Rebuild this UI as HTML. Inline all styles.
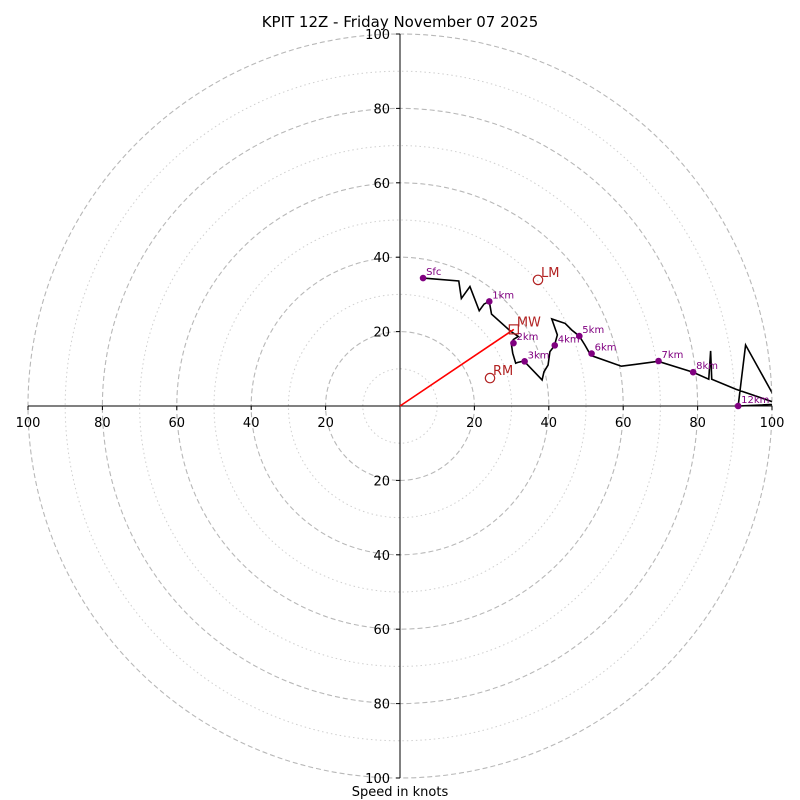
<!DOCTYPE html>
<html><head><meta charset="utf-8"><style>
html,body{margin:0;padding:0;background:#fff}
svg{display:block;font-family:"DejaVu Sans","Liberation Sans",sans-serif}
</style></head><body>
<svg id="c" width="800" height="800" viewBox="0 0 800 800">
<text x="400" y="27" text-anchor="middle" font-size="15">KPIT 12Z - Friday November 07 2025</text>
<text x="400" y="796" text-anchor="middle" font-size="13">Speed in knots</text>
<defs><clipPath id="clip"><circle cx="400" cy="406" r="372"/></clipPath></defs>
<g id="grid"></g><g id="axes"></g><g id="series" clip-path="url(#clip)"></g><g id="marks"></g>
</svg>
<script>
// hodograph wind components (knots): u east, v north
const traceU = [6.2,15.8,16.5,18.8,21.3,22.6,24.0,24.6,29.6,31.8,30.5,29.9,30.3,31.1,31.6,33.3,38.2,38.7,39.8,40.3,41.5,42.3,40.8,44.4,46.2,48.2,49.7,51.3,59.5,69.4,78.7,83.0,83.5,83.8,90.3,102,90.9,92.9,102];
const traceV = [34.4,33.6,28.9,32.1,25.6,27.4,28.1,24.7,20.2,18.7,17.9,16.9,14.2,11.5,11.7,12.1,7.0,9.2,11.0,14.6,16.2,19.1,23.4,22.2,20.4,18.8,16.4,13.6,10.7,12.0,9.1,7.2,14.8,7.2,4.5,0.5,0,16.4,0];
const hgtLabels = ["Sfc","1km","2km","3km","4km","5km","6km","7km","8km","12km"];
const hgtU = [6.2,24.0,30.5,33.5,41.6,48.2,51.5,69.5,78.8,90.9];
const hgtV = [34.4,28.1,16.9,12.0,16.3,18.8,14.1,12.1,9.1,0];
const stormLabels = ["MW","LM","RM"];
const stormU = [30.6,37.1,24.2];
const stormV = [20.6,33.9,7.5];
const ringVals = [10,20,30,40,50,60,70,80,90,100];
const tickVals = [20,40,60,80,100];

const cx=400, cy=406, S=3.72;
const X=u=>cx+u*S, Y=v=>cy-v*S;
const NS="http://www.w3.org/2000/svg";
function mk(tag, attrs, parent){const e=document.createElementNS(NS,tag);for(const k in attrs)e.setAttribute(k,attrs[k]);parent.appendChild(e);return e;}
const grid=document.getElementById('grid'), axes=document.getElementById('axes'), series=document.getElementById('series'), marks=document.getElementById('marks');

ringVals.forEach(r=>{
  const major = r%20===0;
  const c=mk('circle',{cx:cx,cy:cy,r:r*S,fill:'none',stroke:major?'#b8b8b8':'#cfcfcf','stroke-width':major?1.1:1,'stroke-dasharray':major?'5,3':'1.5,3'},grid);
  
  
});
let l=mk('line',{x1:X(-100),y1:cy,x2:X(100),y2:cy,stroke:'#000','stroke-width':1},axes);


l=mk('line',{x1:cx,y1:Y(100),x2:cx,y2:Y(-100),stroke:'#000','stroke-width':1},axes);


tickVals.forEach(t=>{
  [-1,1].forEach(s=>{
    let tk=mk('line',{x1:X(s*t),y1:cy,x2:X(s*t),y2:cy+4,stroke:'#000','stroke-width':1},axes);
    
    
    tk=mk('line',{x1:cx-4,y1:Y(s*t),x2:cx,y2:Y(s*t),stroke:'#000','stroke-width':1},axes);
    
    
    let tx=mk('text',{x:X(s*t),y:cy+21,'text-anchor':'middle','font-size':13},axes);tx.textContent=t;
    
    
    tx=mk('text',{x:390,y:Y(s*t)+5,'text-anchor':'end','font-size':13},axes);tx.textContent=t;
    
    
  });
});
const pts=traceU.map((u,i)=>X(u)+','+Y(traceV[i])).join(' ');
const pl=mk('polyline',{points:pts,fill:'none',stroke:'#000','stroke-width':1.6,'stroke-linejoin':'miter'},series);


const ar=mk('line',{x1:X(0),y1:Y(0),x2:X(stormU[0]),y2:Y(stormV[0]),stroke:'#ff0000','stroke-width':1.6},marks);


hgtLabels.forEach((lab,i)=>{
  const d=mk('circle',{cx:X(hgtU[i]),cy:Y(hgtV[i]),r:3.3,fill:'#800080'},marks);
  
  
  const t=mk('text',{x:X(hgtU[i])+3,y:Y(hgtV[i])-3,'font-size':10,fill:'#800080'},marks);t.textContent=lab;
  
  
});
stormLabels.forEach((lab,i)=>{
  const x=X(stormU[i]), y=Y(stormV[i]);
  let m;
  if(lab==='MW') m=mk('rect',{x:x-4.5,y:y-4.5,width:9,height:9,fill:'none',stroke:'#b22222','stroke-width':1.2},marks);
  else m=mk('circle',{cx:x,cy:y,r:4.7,fill:'none',stroke:'#b22222','stroke-width':1.2},marks);
  
  
  const t=mk('text',{x:x+3,y:y-3,'font-size':13,fill:'#b22222'},marks);t.textContent=lab;
  
  
});
</script>
</body></html>
